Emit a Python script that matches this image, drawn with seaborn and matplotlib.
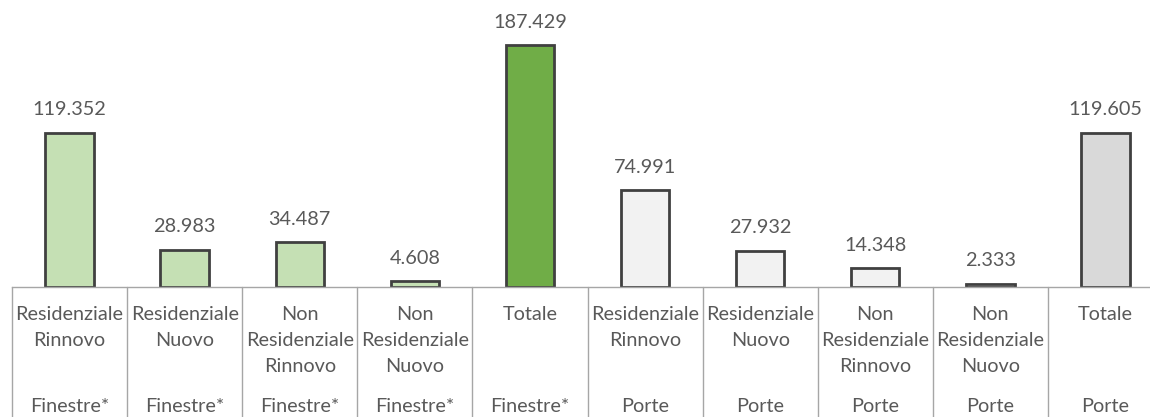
import matplotlib
matplotlib.use("Agg")
import matplotlib.pyplot as plt
import matplotlib.transforms as mtransforms
import seaborn as sns
import pandas as pd

# ---- data ----
categories = [
    "Residenziale\nRinnovo", "Residenziale\nNuovo", "Non\nResidenziale\nRinnovo",
    "Non\nResidenziale\nNuovo", "Totale",
    "Residenziale\nRinnovo", "Residenziale\nNuovo", "Non\nResidenziale\nRinnovo",
    "Non\nResidenziale\nNuovo", "Totale",
]
groups = ["Finestre*"] * 5 + ["Porte"] * 5
values = [119352, 28983, 34487, 4608, 187429, 74991, 27932, 14348, 2333, 119605]
colors = ["#C5E0B4", "#C5E0B4", "#C5E0B4", "#C5E0B4", "#70AD47",
          "#F2F2F2", "#F2F2F2", "#F2F2F2", "#F2F2F2", "#D9D9D9"]

keys = [f"{g}|{c}" for g, c in zip(groups, categories)]
df = pd.DataFrame({"key": keys, "value": values})

sns.set_theme(style="white")
plt.rcParams["font.family"] = ["Lato", "DejaVu Sans"]

W, H = 1150, 417
fig = plt.figure(figsize=(W / 100, H / 100), dpi=100)
base_y = 287
left_px, right_px = 12, 1163
ax = fig.add_axes([left_px / W, (H - base_y) / H, (right_px - left_px) / W, base_y / H])

sns.barplot(data=df, x="key", y="value", hue="key", palette=colors, legend=False,
            width=0.42, edgecolor="#404040", linewidth=2.0, ax=ax, saturation=1)

ax.set_xlim(-0.5, len(values) - 0.5)
ax.set_ylim(0, 187429 * base_y / 242)
for s in ["top", "right", "left"]:
    ax.spines[s].set_visible(False)
ax.spines["bottom"].set_color("#A6A6A6")
ax.spines["bottom"].set_linewidth(1.0)
ax.set_xticks([])
ax.set_yticks([])
ax.set_xlabel("")
ax.set_ylabel("")

txt_color = "#595959"
fs = 14.3

def fmt(v):
    return f"{v:,}".replace(",", ".")

for i, v in enumerate(values):
    ax.annotate(fmt(v), xy=(i, v), xytext=(0, 23), textcoords="offset pixels",
                ha="center", va="center", fontsize=fs, color=txt_color)

trans = mtransforms.blended_transform_factory(ax.transData, ax.transAxes)
def yfrac(py):
    return (base_y - py) / base_y

for i in range(len(values) + 1):
    ax.plot([i - 0.5, i - 0.5], [0, yfrac(H + 5)], transform=trans, color="#A6A6A6",
            lw=1.0, clip_on=False)

for i, (c, g) in enumerate(zip(categories, groups)):
    lines = c.split("\n")
    for j, ln in enumerate(lines):
        ax.text(i, yfrac(315 + 26 * j), ln, transform=trans, ha="center", va="center",
                fontsize=fs, color=txt_color)
    ax.text(i, yfrac(407), g, transform=trans, ha="center", va="center",
            fontsize=fs, color=txt_color)

fig.savefig("out.png", dpi=100)
